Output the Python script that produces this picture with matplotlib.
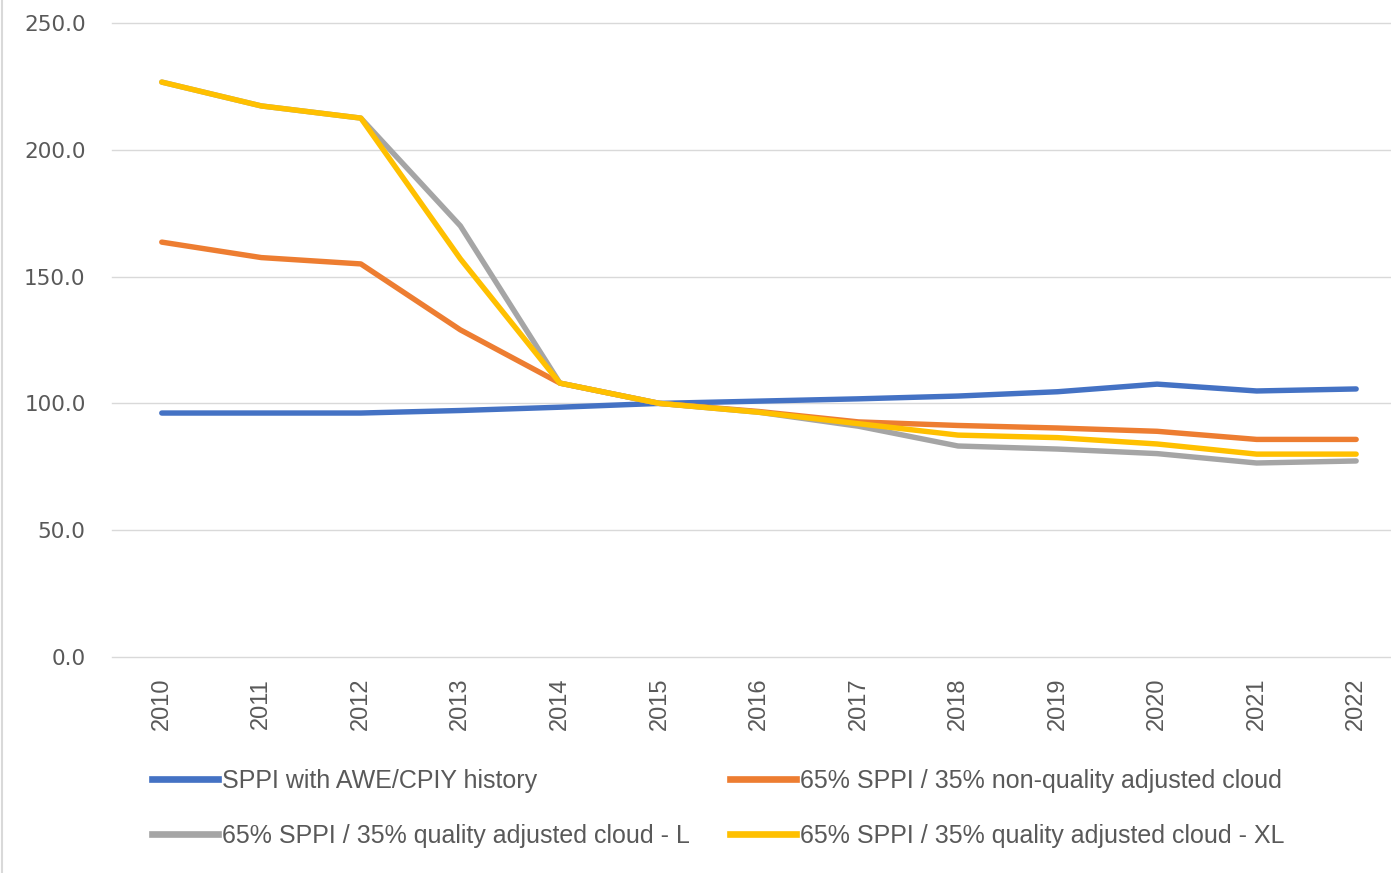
import matplotlib
matplotlib.use("Agg")
import matplotlib.pyplot as plt
from matplotlib.lines import Line2D

years = ["2010", "2011", "2012", "2013", "2014", "2015", "2016",
         "2017", "2018", "2019", "2020", "2021", "2022"]
sppi = [96.2, 96.2, 96.2, 97.2, 98.5, 100.0, 100.9, 101.8, 102.9, 104.6, 107.6, 104.9, 105.7]
non_qa = [163.6, 157.5, 155.0, 129.0, 108.0, 100.0, 96.8, 92.7, 91.3, 90.3, 89.0, 85.8, 85.8]
qa_l = [226.7, 217.3, 212.5, 170.0, 108.0, 100.0, 96.5, 91.0, 83.2, 82.0, 80.2, 76.5, 77.3]
qa_xl = [226.7, 217.3, 212.5, 157.0, 108.0, 100.0, 96.5, 92.0, 87.5, 86.5, 84.0, 80.0, 80.0]

labels = ["SPPI with AWE/CPIY history",
          "65% SPPI / 35% non-quality adjusted cloud",
          "65% SPPI / 35% quality adjusted cloud - L",
          "65% SPPI / 35% quality adjusted cloud - XL"]
colors = ["#4472C4", "#ED7D31", "#A5A5A5", "#FFC000"]
series = [sppi, non_qa, qa_l, qa_xl]
yticks = [0, 50, 100, 150, 200, 250]

TXT = "#595959"
W, H = 1391, 873
fig = plt.figure(figsize=(W / 100, H / 100), dpi=100)
ax = fig.add_axes([112 / W, 1 - 657 / H, (1390 - 112) / W, (657 - 23) / H])

x = list(range(len(years)))
for s, c, l in zip(series, colors, labels):
    ax.plot(x, s, color=c, lw=3.9, label=l, solid_capstyle="round", solid_joinstyle="round")

ax.set_ylim(0, 250)
ax.set_yticks(yticks)
ax.set_yticklabels([f"{v:.1f}" for v in yticks])
ax.set_xlim(-0.5, 12.34)
ax.set_xticks(x)
ax.set_xticklabels(years, rotation=90, fontfamily="Liberation Sans", fontsize=17)
ax.grid(axis="y", color="#D9D9D9", lw=1)
for gl in ax.get_ygridlines():
    gl.set_clip_on(False)
ax.set_axisbelow(True)
for sp in ax.spines.values():
    sp.set_visible(False)
ax.tick_params(axis="both", length=0, colors=TXT)
ax.tick_params(axis="y", pad=19, labelsize=15.5)
ax.tick_params(axis="x", pad=15)

prop = {"family": "Liberation Sans", "size": 18}
for col, xpix in ((0, 152), (1, 730)):
    idx = [col, col + 2]
    hs = [Line2D([0], [0], color=colors[i], lw=4.8) for i in idx]
    fig.legend(hs, [labels[i] for i in idx], loc="upper left",
               bbox_to_anchor=(xpix / W, 1 - 769 / H), ncol=1, frameon=False,
               borderpad=0, borderaxespad=0, handlelength=2.64, handletextpad=0.16,
               labelspacing=1.22, prop=prop, labelcolor=TXT)

fig.add_artist(Line2D([2 / W, 2 / W], [0, 1], color="#D9D9D9", lw=1.5, transform=fig.transFigure))

fig.savefig("out.png", dpi=100)
